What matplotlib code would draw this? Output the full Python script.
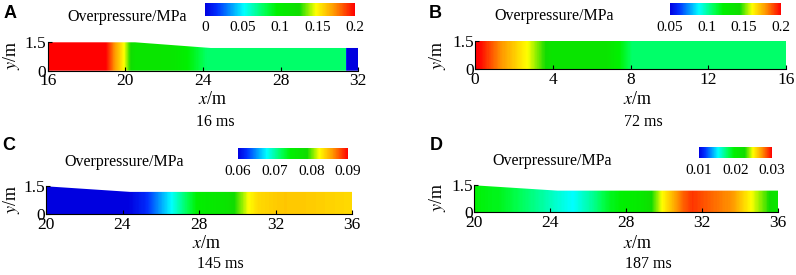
import matplotlib
matplotlib.use("Agg")
import matplotlib.pyplot as plt
import numpy as np
from matplotlib.colors import LinearSegmentedColormap, Normalize
from matplotlib.cm import ScalarMappable
from matplotlib.patches import Polygon

plt.rcParams["font.family"] = ["Liberation Serif", "DejaVu Serif"]
plt.rcParams["mathtext.fontset"] = "stix"

# ── data ────────────────────────────────────────────────────────────────────
# overpressure (MPa) sampled along the channel, one list per snapshot
a_x = [16, 19.0, 19.4, 19.9, 20.2, 20.5, 22.5, 24.2, 31.35, 31.4, 32]
a_p = [0.2, 0.2, 0.175, 0.15, 0.13, 0.115, 0.11, 0.076, 0.076, 0.0, 0.0]
b_x = [0, 0.2, 1.3, 2.75, 3.6, 4.0, 6.8, 8.1, 16]
b_p = [0.2, 0.2, 0.18, 0.16, 0.145, 0.135, 0.135, 0.107, 0.107]
c_x = [20, 24.3, 25.2, 26.6, 27.4, 28.0, 29.4, 30.1, 30.6, 31.1, 32.5, 36]
c_p = [0.06, 0.06, 0.062, 0.068, 0.072, 0.075, 0.077, 0.080, 0.0822, 0.0835, 0.0842, 0.0835]
d_x = [20, 21.4, 23.1, 24.3, 25.2, 26.3, 27.2, 28.7, 29.2, 29.9, 30.3, 31.0,
       31.5, 32.4, 33.6, 34.5, 35.4, 36]
d_p = [0.0195, 0.019, 0.0172, 0.016, 0.0152, 0.017, 0.019, 0.0205, 0.022,
       0.0248, 0.026, 0.0282, 0.029, 0.0282, 0.0272, 0.025, 0.023, 0.021]

# channel outline (top wall height along x)
a_wall_x, a_wall_h = [16, 20.5, 24.4, 32], [1.5, 1.5, 1.2, 1.2]
b_wall_x, b_wall_h = [0, 16], [1.5, 1.5]
c_wall_x, c_wall_h = [20, 24.4, 36], [1.5, 1.2, 1.2]
d_wall_x, d_wall_h = [20, 24.4, 36], [1.5, 1.2, 1.2]

panel_letters = ["A", "B", "C", "D"]
times = ["16 ms", "72 ms", "145 ms", "187 ms"]
xticks = [[16, 20, 24, 28, 32], [0, 4, 8, 12, 16], [20, 24, 28, 32, 36], [20, 24, 28, 32, 36]]
cb_ranges = [(0, 0.2), (0.05, 0.2), (0.06, 0.09), (0.01, 0.03)]
cb_ticks = [[0, 0.05, 0.1, 0.15, 0.2], [0.05, 0.1, 0.15, 0.2],
            [0.06, 0.07, 0.08, 0.09], [0.01, 0.02, 0.03]]
cb_labels = [["0", "0.05", "0.1", "0.15", "0.2"], ["0.05", "0.1", "0.15", "0.2"],
             ["0.06", "0.07", "0.08", "0.09"], ["0.01", "0.02", "0.03"]]

W, H = 796, 275
fig = plt.figure(figsize=(W / 100, H / 100), dpi=100)

cmap = LinearSegmentedColormap.from_list("fluent", [
    (0.0, "#0000e0"), (0.08, "#0030ff"), (0.26, "#00ffff"), (0.40, "#00ff50"),
    (0.48, "#00f000"), (0.63, "#10dc00"), (0.74, "#ffff00"), (0.86, "#ff9900"),
    (1.0, "#ff0000")])


def px_axes(left, right, top, bottom):
    return fig.add_axes([left / W, 1 - bottom / H, (right - left) / W, (bottom - top) / H])


def ftext(x, y, s, **kw):
    fig.text(x / W, 1 - y / H, s, ha="center", va="center", **kw)


# pixel layout: (axes l, r, top, bottom), colorbar box, text anchors
layout = [
    dict(ax=(47.7, 358.3, 42.3, 70.7), cb=(205, 355, 3.3, 15.7), letter=(10, 14),
         title=(127, 17), xl=(213, 100), yl=(12, 55), t=(215, 122)),
    dict(ax=(475, 786, 40.7, 69.3), cb=(670, 781, 3.3, 15), letter=(435, 14),
         title=(554, 16), xl=(638, 100), yl=(437, 55), t=(643, 122)),
    dict(ax=(46, 352, 186.3, 214.3), cb=(238, 348, 148, 159), letter=(9, 146),
         title=(124, 162), xl=(207, 244), yl=(11, 199), t=(220, 264)),
    dict(ax=(474, 778, 185.3, 212), cb=(699, 772, 147, 158), letter=(436, 146),
         title=(552, 161), xl=(638, 243), yl=(437, 197), t=(648, 264)),
]

fields = [(a_x, a_p, a_wall_x, a_wall_h), (b_x, b_p, b_wall_x, b_wall_h),
          (c_x, c_p, c_wall_x, c_wall_h), (d_x, d_p, d_wall_x, d_wall_h)]

for i, (px, pp, wx, wh) in enumerate(fields):
    lay = layout[i]
    vmin, vmax = cb_ranges[i]
    ax = px_axes(*lay["ax"])

    # field: same value across the channel height, contour-filled finely
    X, Y = np.meshgrid(px, [0, 1.5])
    Z = np.vstack([pp, pp])
    levels = np.linspace(vmin, vmax, 300)
    cs = ax.contourf(X, Y, Z, levels=levels, cmap=cmap, extend="both", antialiased=False)
    cs.cmap.set_under(cmap(0.0))
    cs.cmap.set_over(cmap(1.0))

    outline = Polygon(list(zip(wx, [0] * len(wx)))[::-1] + list(zip(wx, wh)),
                      closed=True, transform=ax.transData, facecolor="none", edgecolor="none")
    ax.add_patch(outline)
    cs.set_clip_path(outline)

    ax.set_xlim(xticks[i][0], xticks[i][-1])
    ax.set_ylim(0, 1.5)
    ax.set_xticks(xticks[i])
    ax.set_yticks([0, 1.5])
    ax.set_yticklabels(["0", "1.5"])
    ax.tick_params(direction="in", length=3, width=0.8, labelsize=12.5, pad=1)
    ax.tick_params(axis="x", pad=2)
    for side in ("top", "right"):
        ax.spines[side].set_visible(False)
    for side in ("left", "bottom"):
        ax.spines[side].set_linewidth(0.8)
    ax.set_facecolor("none")

    # colour bar
    cax = px_axes(*lay["cb"])
    sm = ScalarMappable(norm=Normalize(vmin, vmax), cmap=cmap)
    cb = fig.colorbar(sm, cax=cax, orientation="horizontal")
    cb.outline.set_visible(False)
    cb.set_ticks(cb_ticks[i])
    cb.set_ticklabels(cb_labels[i])
    cax.tick_params(length=0, labelsize=11, pad=4)

    ftext(*lay["letter"], panel_letters[i], family="Liberation Sans", weight="bold", fontsize=13)
    ftext(*lay["title"], "Overpressure/MPa", fontsize=11.5)
    ftext(*lay["xl"], r"$x$/m", fontsize=13)
    ftext(*lay["yl"], r"$y$/m", fontsize=13, rotation=90)
    ftext(*lay["t"], times[i], fontsize=11.5)

fig.savefig("out.png", dpi=100)
